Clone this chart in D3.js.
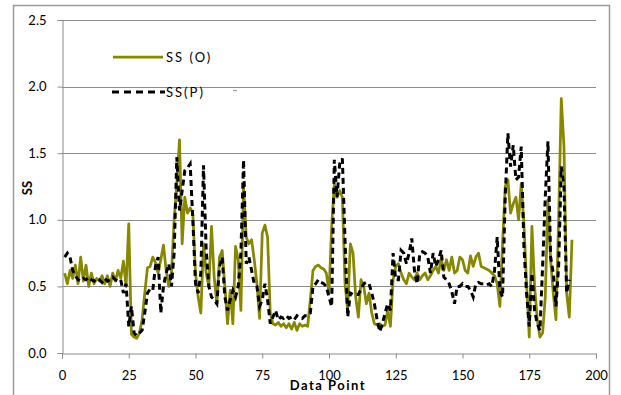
<!DOCTYPE html>
<html>
<head>
<meta charset="utf-8">
<script src="https://cdn.jsdelivr.net/npm/d3@7"></script>
<style>
  html, body { margin: 0; padding: 0; background: #fff; }
  svg { display: block; }
  text { font-family: Lato, "Liberation Sans", sans-serif; fill: #000; }
</style>
</head>
<body>
<svg id="chart" width="621" height="395"></svg>
<script>
// ---- data ----
const seriesNames = ["SS (O)", "SS(P)"];
const xTicks = [0, 25, 50, 75, 100, 125, 150, 175, 200];
const yTicks = [0.0, 0.5, 1.0, 1.5, 2.0, 2.5];

// SS (O): data points 1..191
const ssO = [
  0.60,0.52,0.62,0.56,0.66,0.52,0.72,0.54,0.66,0.50,
  0.60,0.52,0.56,0.54,0.58,0.52,0.58,0.50,0.60,0.54,
  0.62,0.56,0.69,0.50,0.97,0.14,0.12,0.11,0.15,0.25,
  0.45,0.64,0.65,0.72,0.68,0.60,0.70,0.81,0.62,0.50,
  0.60,1.00,1.27,1.60,0.82,1.17,1.05,1.09,1.05,0.60,
  0.42,0.30,0.82,0.60,0.50,0.95,0.57,0.37,0.72,0.77,
  0.50,0.22,0.47,0.22,0.80,0.70,0.32,1.25,0.87,0.82,
  0.85,0.70,0.52,0.26,0.90,0.96,0.87,0.30,0.22,0.21,
  0.23,0.20,0.22,0.19,0.22,0.18,0.23,0.17,0.22,0.20,
  0.21,0.20,0.40,0.62,0.65,0.66,0.64,0.63,0.60,0.45,
  0.95,1.27,1.17,1.22,1.17,0.52,0.32,0.82,0.75,0.42,
  0.27,0.55,0.50,0.37,0.45,0.30,0.22,0.21,0.22,0.20,
  0.21,0.32,0.20,0.55,0.65,0.67,0.60,0.55,0.52,0.60,
  0.57,0.55,0.60,0.55,0.58,0.60,0.55,0.58,0.62,0.65,
  0.60,0.71,0.62,0.70,0.62,0.72,0.60,0.62,0.72,0.70,
  0.62,0.60,0.73,0.65,0.72,0.75,0.65,0.64,0.63,0.62,
  0.60,0.58,0.52,0.35,0.82,1.25,1.30,1.05,1.12,1.17,
  1.00,1.27,0.97,0.52,0.12,0.95,0.50,0.25,0.12,0.15,
  0.42,1.15,0.70,0.45,0.25,1.00,1.91,1.55,0.45,0.27,
  0.85
];

// SS(P): data points 1..190
const ssP = [
  0.72,0.75,0.72,0.62,0.58,0.55,0.54,0.56,0.55,0.57,
  0.55,0.54,0.56,0.55,0.53,0.56,0.54,0.55,0.57,0.55,
  0.54,0.55,0.45,0.52,0.20,0.35,0.15,0.13,0.15,0.17,
  0.30,0.45,0.48,0.47,0.65,0.72,0.30,0.50,0.60,0.67,
  0.50,0.75,1.47,1.07,1.22,1.37,1.39,1.42,1.00,0.52,
  0.45,0.60,1.41,0.77,0.50,0.42,0.40,0.37,0.65,0.72,
  0.42,0.32,0.40,0.47,0.42,0.50,0.75,1.45,0.67,0.72,
  0.62,0.52,0.50,0.35,0.40,0.52,0.40,0.22,0.27,0.32,
  0.25,0.27,0.26,0.28,0.26,0.27,0.25,0.28,0.27,0.26,
  0.28,0.28,0.30,0.50,0.52,0.55,0.53,0.52,0.50,0.42,
  0.35,1.45,1.17,1.42,1.46,0.85,0.27,0.45,0.44,0.44,
  0.44,0.48,0.52,0.53,0.52,0.45,0.37,0.25,0.16,0.22,
  0.30,0.37,0.32,0.75,0.55,0.55,0.77,0.75,0.67,0.75,
  0.86,0.62,0.52,0.75,0.76,0.75,0.72,0.60,0.75,0.65,
  0.70,0.77,0.57,0.55,0.52,0.46,0.37,0.50,0.50,0.52,
  0.50,0.50,0.47,0.42,0.52,0.53,0.52,0.52,0.51,0.52,
  0.50,0.62,0.87,0.47,0.42,1.17,1.65,1.40,1.56,1.30,
  1.32,1.55,0.80,0.45,0.20,0.60,0.32,0.22,0.17,0.65,
  1.17,1.59,0.72,0.60,0.35,0.65,1.40,1.25,0.45,0.55
];

// ---- drawing ----
const svg = d3.select("#chart");
const olive = "#878700";
const grid = "#8c8c8c";

// outer chart border
svg.append("rect")
  .attr("x", 13.5).attr("y", 5.5).attr("width", 596).attr("height", 420)
  .attr("fill", "none").attr("stroke", "#9a9a9a").attr("stroke-width", 1.5);

const x = d3.scaleLinear().domain([0, 200]).range([62, 596]);
const y = d3.scaleLinear().domain([0, 2.5]).range([353, 20]);

// horizontal gridlines
svg.append("g").selectAll("line")
  .data(yTicks.filter(d => d > 0))
  .join("line")
  .attr("x1", x(0)).attr("x2", x(200))
  .attr("y1", d => Math.round(y(d)) + 0.5).attr("y2", d => Math.round(y(d)) + 0.5)
  .attr("stroke", grid).attr("stroke-width", 1);

// y axis
const yAxis = svg.append("g")
  .attr("transform", `translate(${x(0) + 0.5},0)`)
  .call(d3.axisLeft(y).tickValues(yTicks).tickFormat(d3.format(".1f")).tickSize(5).tickPadding(11));
yAxis.select(".domain").attr("stroke", grid);
yAxis.selectAll(".tick line").attr("stroke", grid);
yAxis.selectAll("text").style("font-size", "13px").style("font-family", "Lato, sans-serif");

// x axis
const xAxis = svg.append("g")
  .attr("transform", `translate(0,${y(0) + 0.5})`)
  .call(d3.axisBottom(x).tickValues(xTicks).tickFormat(d3.format("d")).tickSize(5).tickPadding(12));
xAxis.select(".domain").attr("stroke", grid);
xAxis.selectAll(".tick line").attr("stroke", grid);
xAxis.selectAll("text").style("font-size", "13px").style("font-family", "Lato, sans-serif");

// axis titles
svg.append("text")
  .attr("x", 328).attr("y", 390)
  .attr("text-anchor", "middle")
  .style("font-size", "13px").style("font-weight", "bold").style("letter-spacing", "1.5px")
  .text("Data Point");
svg.append("text")
  .attr("transform", "translate(32,188) rotate(-90)")
  .attr("text-anchor", "middle")
  .style("font-size", "13px").style("font-weight", "bold")
  .text("SS");

// lines
const lineGen = d3.line().x(d => x(d[0])).y(d => y(d[1]));
const oPts = ssO.map((v, i) => [i + 1, v]);
const pPts = ssP.map((v, i) => [i + 1, v]);

svg.append("path").datum(oPts)
  .attr("d", lineGen)
  .attr("fill", "none").attr("stroke", olive).attr("stroke-width", 2.75)
  .attr("stroke-linejoin", "round");

svg.append("path").datum(pPts)
  .attr("d", lineGen)
  .attr("fill", "none").attr("stroke", "#000").attr("stroke-width", 3)
  .attr("stroke-dasharray", "6,4");

// legend
const legend = svg.append("g");
legend.append("line")
  .attr("x1", 113).attr("x2", 163).attr("y1", 57).attr("y2", 57)
  .attr("stroke", olive).attr("stroke-width", 2.75);
legend.append("text")
  .attr("x", 166).attr("y", 62)
  .style("font-size", "13px").style("letter-spacing", "2px")
  .text(seriesNames[0]);
legend.append("line")
  .attr("x1", 112).attr("x2", 165).attr("y1", 92).attr("y2", 92)
  .attr("stroke", "#000").attr("stroke-width", 3)
  .attr("stroke-dasharray", "7,5");
legend.append("text")
  .attr("x", 166).attr("y", 97)
  .style("font-size", "13px").style("letter-spacing", "2px")
  .text(seriesNames[1]);
legend.append("line")
  .attr("x1", 233).attr("x2", 237).attr("y1", 90.5).attr("y2", 90.5)
  .attr("stroke", "#999").attr("stroke-width", 1);
</script>
</body>
</html>
